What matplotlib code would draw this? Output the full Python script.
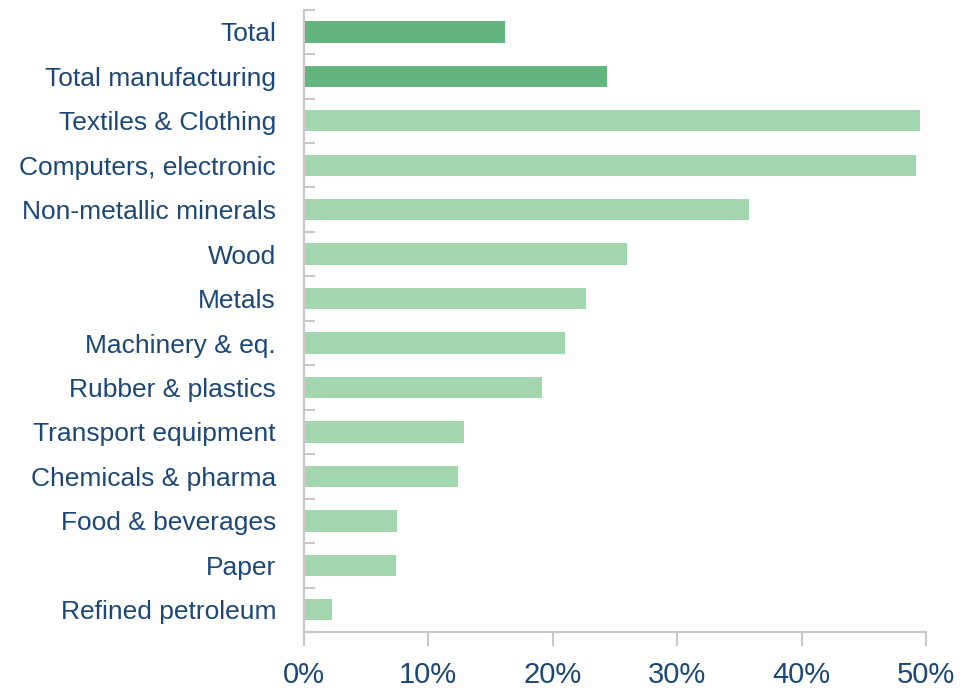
import matplotlib
matplotlib.use("Agg")
import matplotlib.pyplot as plt
import numpy as np
from matplotlib.ticker import FuncFormatter, FixedLocator

plt.rcParams['font.family'] = ['Liberation Sans', 'DejaVu Sans']

# share of firms by sector, top to bottom
sectors = ["Total", "Total manufacturing", "Textiles & Clothing",
           "Computers, electronic", "Non-metallic minerals", "Wood", "Metals",
           "Machinery & eq.", "Rubber & plastics", "Transport equipment",
           "Chemicals & pharma", "Food & beverages", "Paper",
           "Refined petroleum"]
values = [16.2, 24.4, 49.5, 49.2, 35.8, 26.0, 22.7, 21.0, 19.1, 12.9,
          12.4, 7.5, 7.4, 2.3]
x_ticks = [0, 10, 20, 30, 40, 50]

dark = "#62b57c"
light = "#a3d5af"
txt = "#1d4775"
grey = "#c8c8c8"

colors = [dark, dark] + [light] * (len(sectors) - 2)

fig = plt.figure(figsize=(9.8, 6.9), dpi=100)
ax = fig.add_axes([0.310, 0.084, 0.635, 0.902])

y = np.arange(len(sectors))
ax.barh(y, values, height=0.48, color=colors, edgecolor="none")

ax.set_ylim(len(sectors) - 0.5, -0.5)
ax.set_xlim(0, 50)

# category labels sit at bar centres, tick marks fall between bars
ax.set_yticks(y)
ax.set_yticklabels(sectors, fontsize=19, color=txt)
ax.tick_params(axis='y', which='major', length=0, pad=20)
ax.yaxis.set_minor_locator(FixedLocator(np.arange(-0.5, len(sectors), 1)))
ax.tick_params(axis='y', which='minor', direction='in', length=8,
               width=1.5, color=grey)

ax.set_xticks(x_ticks)
ax.xaxis.set_major_formatter(FuncFormatter(lambda v, p: f"{v:.0f}%"))
ax.tick_params(axis='x', direction='out', length=10, width=1.5, color=grey,
               labelsize=21, labelcolor=txt, pad=11)

for s in ["top", "right"]:
    ax.spines[s].set_visible(False)
for s in ["left", "bottom"]:
    ax.spines[s].set_color(grey)
    ax.spines[s].set_linewidth(1.5)

fig.savefig("out.png", dpi=100)
